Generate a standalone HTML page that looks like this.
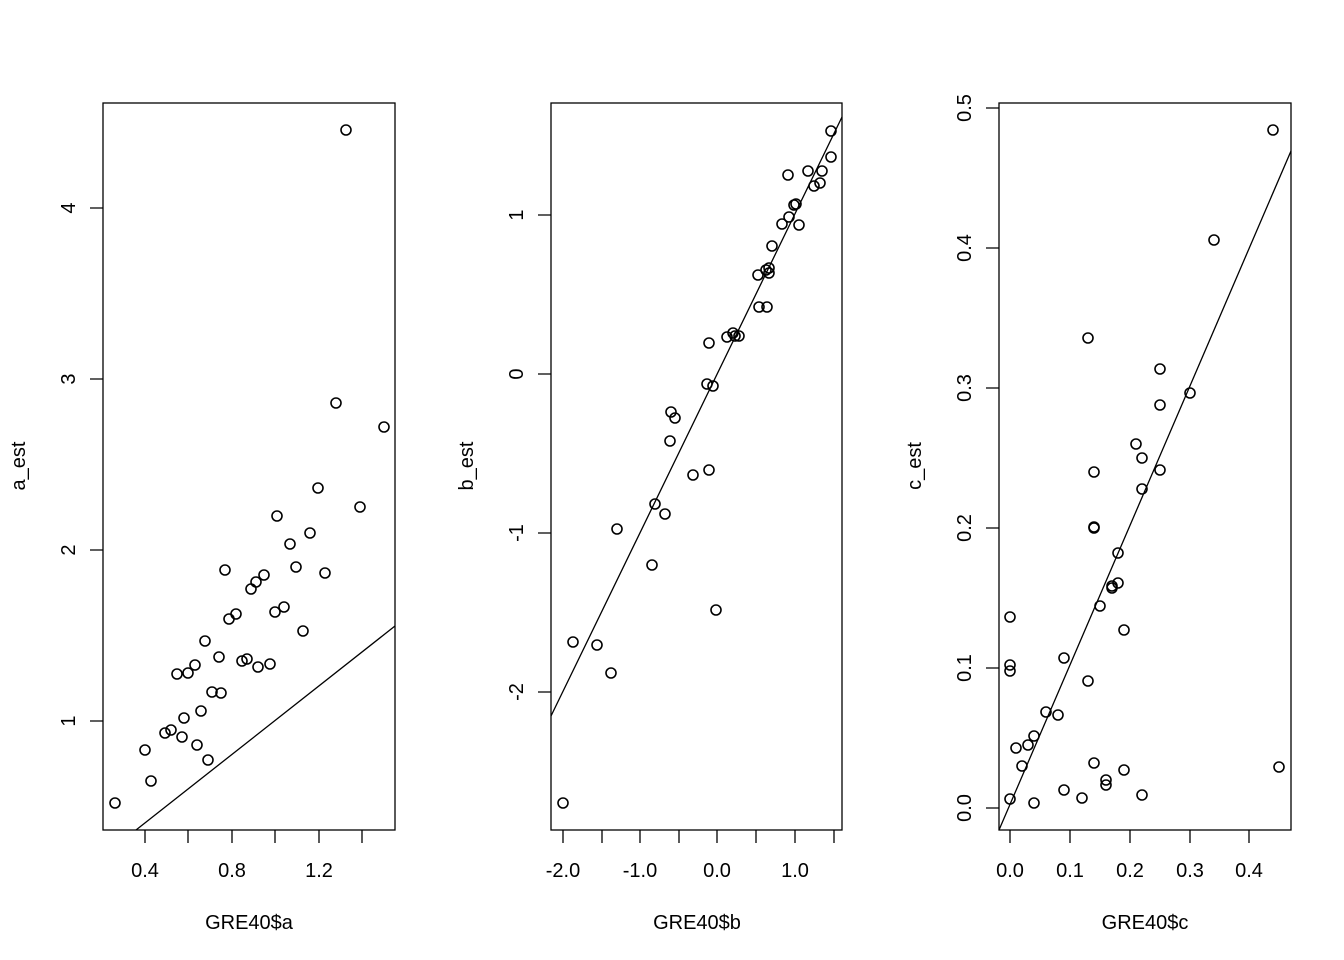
<!DOCTYPE html>
<html><head><style>body{margin:0;background:#fff}svg{display:block}text{font-family:"Liberation Sans",Arial,sans-serif;font-size:20px;fill:#000}</style></head><body>
<svg width="1344" height="960" xmlns="http://www.w3.org/2000/svg">
<g fill="none" stroke="#000" stroke-width="1.3">
<rect x="103" y="103" width="292" height="727"/>
<rect x="551" y="103" width="291" height="727"/>
<rect x="999" y="103" width="292" height="727"/>
<path d="M145 830v13M188 830v13M232 830v13M275 830v13M319 830v13M362 830v13M103 721h-13M103 550h-13M103 379h-13M103 208h-13"/>
<path d="M563 830v13M602 830v13M640 830v13M679 830v13M717 830v13M756 830v13M795 830v13M834 830v13M551 692h-13M551 533h-13M551 374h-13M551 215h-13"/>
<path d="M1010 830v13M1070 830v13M1130 830v13M1190 830v13M1249 830v13M999 808h-13M999 668h-13M999 528h-13M999 388h-13M999 248h-13M999 108h-13"/>
<line x1="136" y1="830" x2="395" y2="626"/>
<line x1="551" y1="716" x2="842" y2="117"/>
<line x1="999" y1="830" x2="1291" y2="151"/>
</g>
<g fill="none" stroke="#000" stroke-width="1.6">
<circle cx="115" cy="803" r="5"/><circle cx="145" cy="750" r="5"/><circle cx="151" cy="781" r="5"/><circle cx="165" cy="733" r="5"/><circle cx="171" cy="730" r="5"/><circle cx="182" cy="737" r="5"/><circle cx="184" cy="718" r="5"/><circle cx="177" cy="674" r="5"/><circle cx="188" cy="673" r="5"/><circle cx="195" cy="665" r="5"/><circle cx="197" cy="745" r="5"/><circle cx="201" cy="711" r="5"/><circle cx="205" cy="641" r="5"/><circle cx="208" cy="760" r="5"/><circle cx="212" cy="692" r="5"/><circle cx="219" cy="657" r="5"/><circle cx="221" cy="693" r="5"/><circle cx="225" cy="570" r="5"/><circle cx="229" cy="619" r="5"/><circle cx="236" cy="614" r="5"/><circle cx="242" cy="661" r="5"/><circle cx="247" cy="659" r="5"/><circle cx="251" cy="589" r="5"/><circle cx="256" cy="582" r="5"/><circle cx="258" cy="667" r="5"/><circle cx="264" cy="575" r="5"/><circle cx="270" cy="664" r="5"/><circle cx="275" cy="612" r="5"/><circle cx="277" cy="516" r="5"/><circle cx="284" cy="607" r="5"/><circle cx="290" cy="544" r="5"/><circle cx="296" cy="567" r="5"/><circle cx="303" cy="631" r="5"/><circle cx="310" cy="533" r="5"/><circle cx="318" cy="488" r="5"/><circle cx="325" cy="573" r="5"/><circle cx="336" cy="403" r="5"/><circle cx="346" cy="130" r="5"/><circle cx="360" cy="507" r="5"/><circle cx="384" cy="427" r="5"/>
<circle cx="563" cy="803" r="5"/><circle cx="573" cy="642" r="5"/><circle cx="597" cy="645" r="5"/><circle cx="611" cy="673" r="5"/><circle cx="617" cy="529" r="5"/><circle cx="652" cy="565" r="5"/><circle cx="655" cy="504" r="5"/><circle cx="665" cy="514" r="5"/><circle cx="670" cy="441" r="5"/><circle cx="671" cy="412" r="5"/><circle cx="675" cy="418" r="5"/><circle cx="693" cy="475" r="5"/><circle cx="707" cy="384" r="5"/><circle cx="709" cy="343" r="5"/><circle cx="709" cy="470" r="5"/><circle cx="713" cy="386" r="5"/><circle cx="716" cy="610" r="5"/><circle cx="727" cy="337" r="5"/><circle cx="733" cy="333" r="5"/><circle cx="735" cy="336" r="5"/><circle cx="739" cy="336" r="5"/><circle cx="758" cy="275" r="5"/><circle cx="759" cy="307" r="5"/><circle cx="766" cy="270" r="5"/><circle cx="767" cy="307" r="5"/><circle cx="769" cy="268" r="5"/><circle cx="769" cy="273" r="5"/><circle cx="772" cy="246" r="5"/><circle cx="782" cy="224" r="5"/><circle cx="788" cy="175" r="5"/><circle cx="789" cy="217" r="5"/><circle cx="794" cy="205" r="5"/><circle cx="796" cy="204" r="5"/><circle cx="799" cy="225" r="5"/><circle cx="808" cy="171" r="5"/><circle cx="814" cy="186" r="5"/><circle cx="820" cy="183" r="5"/><circle cx="822" cy="171" r="5"/><circle cx="831" cy="131" r="5"/><circle cx="831" cy="157" r="5"/>
<circle cx="1010" cy="799" r="5"/><circle cx="1010" cy="617" r="5"/><circle cx="1010" cy="665" r="5"/><circle cx="1010" cy="671" r="5"/><circle cx="1016" cy="748" r="5"/><circle cx="1022" cy="766" r="5"/><circle cx="1028" cy="745" r="5"/><circle cx="1034" cy="736" r="5"/><circle cx="1034" cy="803" r="5"/><circle cx="1046" cy="712" r="5"/><circle cx="1058" cy="715" r="5"/><circle cx="1064" cy="658" r="5"/><circle cx="1064" cy="790" r="5"/><circle cx="1082" cy="798" r="5"/><circle cx="1088" cy="338" r="5"/><circle cx="1088" cy="681" r="5"/><circle cx="1094" cy="763" r="5"/><circle cx="1094" cy="472" r="5"/><circle cx="1094" cy="527" r="5"/><circle cx="1094" cy="528" r="5"/><circle cx="1100" cy="606" r="5"/><circle cx="1106" cy="780" r="5"/><circle cx="1106" cy="785" r="5"/><circle cx="1112" cy="588" r="5"/><circle cx="1112" cy="586" r="5"/><circle cx="1118" cy="553" r="5"/><circle cx="1118" cy="583" r="5"/><circle cx="1124" cy="630" r="5"/><circle cx="1124" cy="770" r="5"/><circle cx="1136" cy="444" r="5"/><circle cx="1142" cy="458" r="5"/><circle cx="1142" cy="489" r="5"/><circle cx="1142" cy="795" r="5"/><circle cx="1160" cy="369" r="5"/><circle cx="1160" cy="405" r="5"/><circle cx="1160" cy="470" r="5"/><circle cx="1190" cy="393" r="5"/><circle cx="1214" cy="240" r="5"/><circle cx="1273" cy="130" r="5"/><circle cx="1279" cy="767" r="5"/>
</g>
<g text-anchor="middle">
<text x="145" y="877">0.4</text><text x="232" y="877">0.8</text><text x="319" y="877">1.2</text>
<text x="563" y="877">-2.0</text><text x="640" y="877">-1.0</text><text x="717" y="877">0.0</text><text x="795" y="877">1.0</text>
<text x="1010" y="877">0.0</text><text x="1070" y="877">0.1</text><text x="1130" y="877">0.2</text><text x="1190" y="877">0.3</text><text x="1249" y="877">0.4</text>
<text x="249" y="929">GRE40$a</text><text x="697" y="929">GRE40$b</text><text x="1145" y="929">GRE40$c</text>
<g transform="translate(75,0)"><text transform="translate(0,721) rotate(-90)">1</text><text transform="translate(0,550) rotate(-90)">2</text><text transform="translate(0,379) rotate(-90)">3</text><text transform="translate(0,208) rotate(-90)">4</text></g>
<g transform="translate(523,0)"><text transform="translate(0,692) rotate(-90)">-2</text><text transform="translate(0,533) rotate(-90)">-1</text><text transform="translate(0,374) rotate(-90)">0</text><text transform="translate(0,215) rotate(-90)">1</text></g>
<g transform="translate(971,0)"><text transform="translate(0,808) rotate(-90)">0.0</text><text transform="translate(0,668) rotate(-90)">0.1</text><text transform="translate(0,528) rotate(-90)">0.2</text><text transform="translate(0,388) rotate(-90)">0.3</text><text transform="translate(0,248) rotate(-90)">0.4</text><text transform="translate(0,108) rotate(-90)">0.5</text></g>
<text transform="translate(25,466) rotate(-90)">a_est</text>
<text transform="translate(473,466) rotate(-90)">b_est</text>
<text transform="translate(921,466) rotate(-90)">c_est</text>
</g>
</svg>
</body></html>
